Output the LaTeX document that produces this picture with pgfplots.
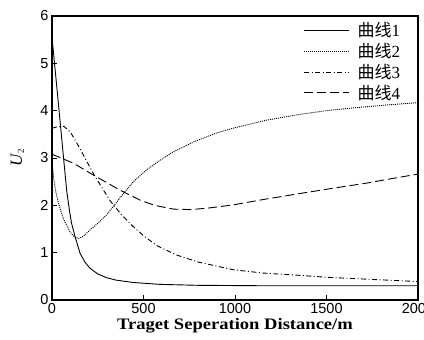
\documentclass[border=0pt]{standalone}
\usepackage{fontspec}
\setmainfont{Liberation Serif}
\setsansfont{Liberation Sans}
\newfontfamily\cjk{Noto Sans CJK SC}
\newfontfamily\xlfont{Liberation Serif}[FakeStretch=1.16]
\usepackage{pgfplots}
\pgfplotsset{compat=1.18}
\begin{document}
\begin{tikzpicture}[x=1pt,y=1pt]
\path[use as bounding box] (-52,-40) rectangle (372,300);
\begin{axis}[at={(0,0)}, anchor=south west,
  width=366pt, height=284pt, scale only axis,
  xmin=0, xmax=2000, ymin=0, ymax=6,
  xtick={0,500,1000,1500,2000}, ytick={0,1,2,3,4,5,6},
  tick align=inside, xtick pos=bottom, ytick pos=left,
  axis line style={line width=1.3pt},
  tick style={black, line width=0.8pt},
  major tick length=5pt,
  tick label style={font=\sffamily\fontsize{14.5}{15}\selectfont},
  /pgf/number format/assume math mode=true,
  /pgf/number format/1000 sep={},
  xlabel={\xlfont\bfseries Traget Seperation Distance/m},
  xlabel style={font=\fontsize{16}{16}\selectfont, at={(axis description cs:0.5,0)}, anchor=base, yshift=-30pt},
  ylabel={\textit{U}\raisebox{-0.25ex}{\fontsize{9}{9}\selectfont 2}},
  ylabel style={font=\fontsize{17}{17}\selectfont, at={(axis description cs:-0.095,0.5)}, anchor=center},
  legend style={draw=none, fill=none, at={(axis cs:1920,5.93)}, anchor=north east,
    font=\fontsize{17}{17}\selectfont, row sep=1pt, inner sep=1pt},
  legend cell align=left,
  legend image code/.code={\draw[#1] (0pt,0pt) -- (45pt,0pt); \path (51pt,0pt);},
  every axis plot/.append style={black, line width=0.9pt},
]
\addplot[solid] table {
0 5.55
30 4.35
62 3.05
80 2.32
95 1.90
107 1.62
126 1.34
153 0.99
180 0.80
208 0.67
250 0.55
299 0.47
350 0.42
444 0.37
590 0.33
800 0.31
1200 0.30
2000 0.30
};
\addlegendentry{{\cjk 曲线}1}
\addplot[dash pattern=on 1pt off 1pt] table {
0 2.92
10 2.55
20 2.30
35 2.05
62 1.72
98 1.44
120 1.34
144 1.30
170 1.34
208 1.48
250 1.62
299 1.80
350 2.05
390 2.25
450 2.52
517 2.75
590 2.95
663 3.13
780 3.35
900 3.53
1000 3.64
1173 3.80
1350 3.92
1500 4.00
1650 4.06
1829 4.12
2000 4.17
};
\addlegendentry{{\cjk 曲线}2}
\addplot[dash pattern=on 5pt off 2.5pt on 1pt off 2.5pt] table {
0 3.63
30 3.66
65 3.67
100 3.55
120 3.42
150 3.22
180 3.00
235 2.61
280 2.33
317 2.10
380 1.80
444 1.55
500 1.36
572 1.15
681 0.95
800 0.80
990 0.64
1150 0.57
1355 0.52
1500 0.48
1720 0.44
2000 0.39
};
\addlegendentry{{\cjk 曲线}3}
\addplot[dash pattern=on 9pt off 4pt] table {
0 3.08
117 2.89
226 2.64
372 2.32
481 2.11
560 2.00
663 1.92
754 1.91
850 1.94
991 2.01
1150 2.12
1355 2.25
1550 2.37
1720 2.47
1850 2.56
2000 2.66
};
\addlegendentry{{\cjk 曲线}4}
\end{axis}
\end{tikzpicture}
\end{document}
